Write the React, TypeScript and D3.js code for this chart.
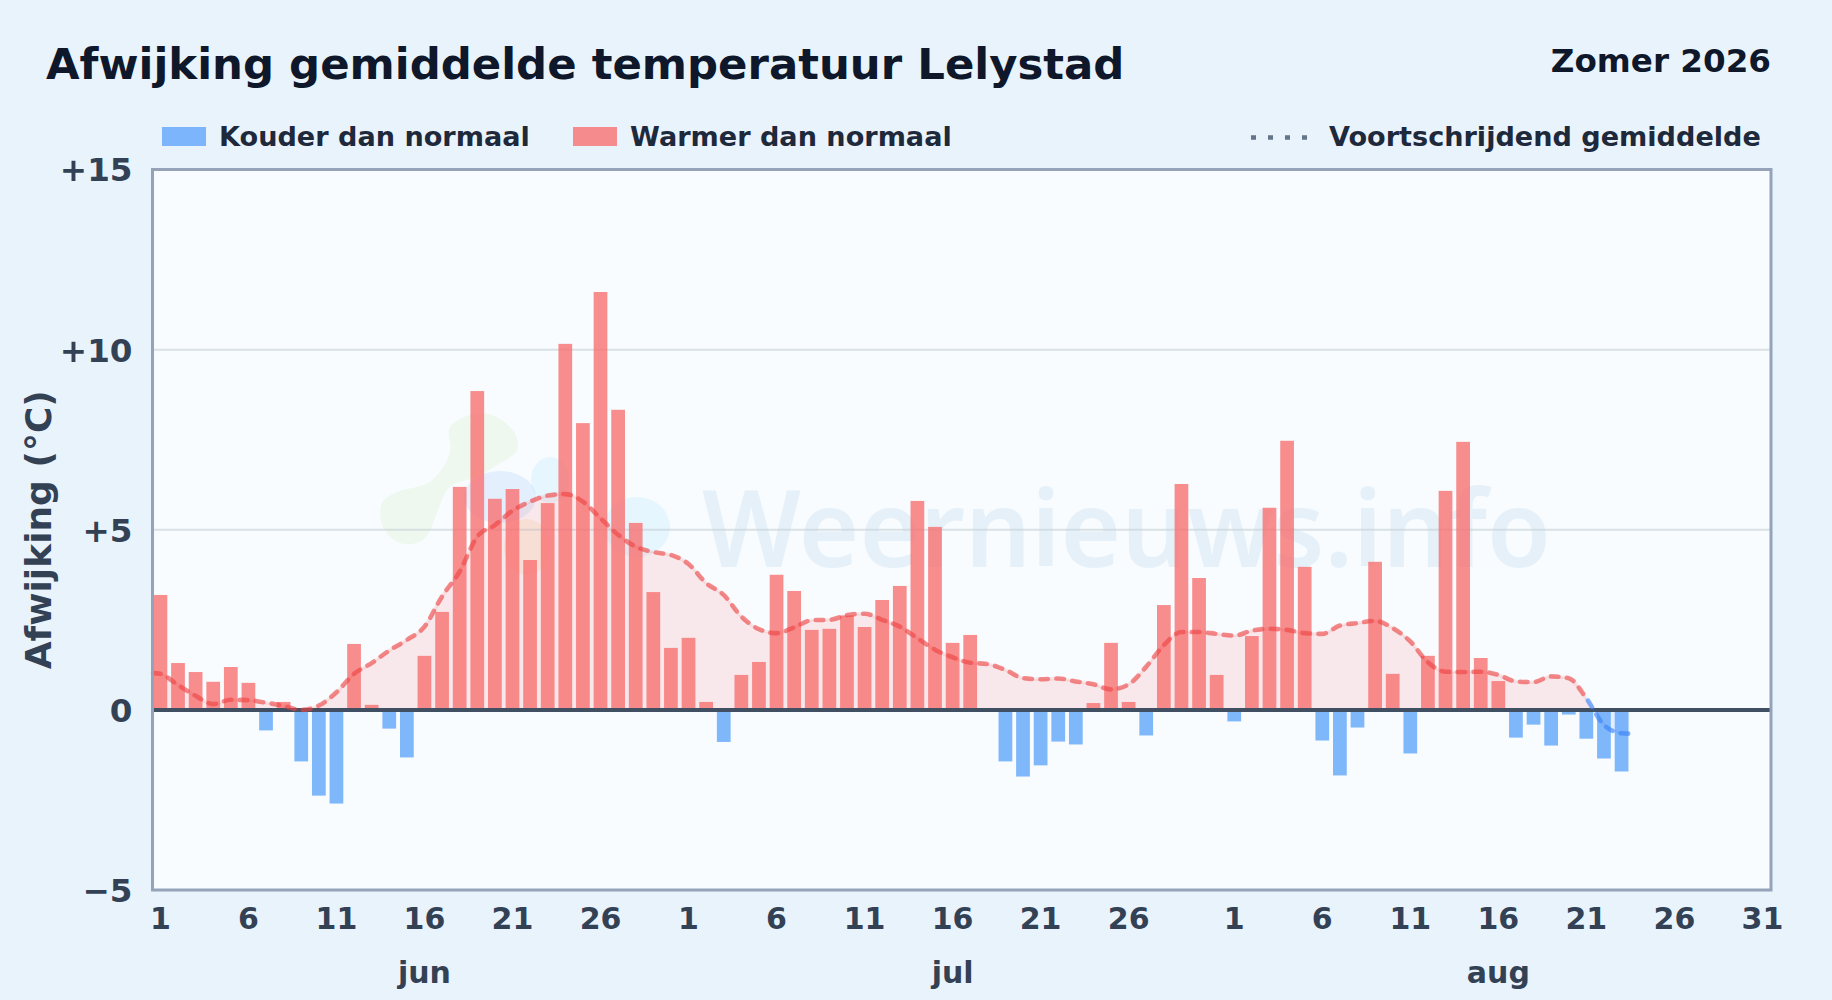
import React, { useRef, useEffect } from "react";
import * as d3 from "d3";

const months = ["jun", "jul", "aug"];
const monthLengths = [30, 31, 31];
// Month label sits under the 16th of each month
const monthLabelDay = 16;
const tickDays = [
  [1, 6, 11, 16, 21, 26],
  [1, 6, 11, 16, 21, 26],
  [1, 6, 11, 16, 21, 26, 31],
];
const yTicks = [-5, 0, 5, 10, 15];

const junValues = [
  3.19, 1.3, 1.05, 0.78, 1.19, 0.75, -0.57, 0.22, -1.43, -2.38, -2.6, 1.83, 0.14, -0.52, -1.32,
  1.5, 2.72, 6.19, 8.85, 5.86, 6.13, 4.16, 5.74, 10.16, 7.96, 11.6, 8.33, 5.19, 3.27, 1.72,
];
const julValues = [
  2.0, 0.22, -0.89, 0.97, 1.33, 3.75, 3.3, 2.22, 2.25, 2.62, 2.3, 3.05, 3.44, 5.8, 5.08, 1.86,
  2.08, 0, -1.43, -1.85, -1.54, -0.88, -0.96, 0.19, 1.86, 0.22, -0.71, 2.91, 6.27, 3.66, 0.97,
];
const augValues = [
  -0.32, 2.05, 5.61, 7.47, 3.97, -0.85, -1.82, -0.49, 4.11, 1.0, -1.21, 1.5, 6.08, 7.44, 1.44,
  0.8, -0.77, -0.41, -0.99, -0.13, -0.8, -1.35, -1.71,
];

const movingAverage = [
  1.0, 0.69, 0.39, 0.16, 0.28, 0.27, 0.2, 0.11, 0, 0.12, 0.49, 1.0, 1.3, 1.65, 1.94, 2.31, 3.15,
  3.84, 4.81, 5.13, 5.53, 5.78, 5.95, 5.99, 5.78, 5.32, 4.86, 4.53, 4.38, 4.3, 4.05, 3.52, 3.19,
  2.59, 2.24, 2.13, 2.29, 2.49, 2.5, 2.63, 2.67, 2.5, 2.31, 1.99, 1.67, 1.46, 1.31, 1.27, 1.11,
  0.88, 0.85, 0.87, 0.79, 0.71, 0.57, 0.71, 1.2, 1.8, 2.16, 2.16, 2.11, 2.06, 2.2, 2.25, 2.22,
  2.13, 2.11, 2.34, 2.41, 2.47, 2.27, 1.9, 1.32, 1.06, 1.05, 1.06, 0.97, 0.79, 0.77, 0.93, 0.88,
  0.32, -0.42, -0.65,
];
// The line runs on to the outer edges of the first and last bar
const maStart = { day: -0.42, value: 1.02 };
const maEnd = { day: 83.45, value: -0.66 };
// From this day on the line is coloured as "colder"
const maColdFromDay = 80.95;

const FONT = "'DejaVu Sans', sans-serif";
const WIDTH = 1832;
const HEIGHT = 1000;

const App: React.FC = () => {
  const svgRef = useRef<SVGSVGElement>(null);

  useEffect(() => {
    if (!svgRef.current) return;

    // Clear previous renderings
    d3.select(svgRef.current).selectAll("*").remove();

    const svg = d3.select(svgRef.current);
    const margin = { top: 169.5, right: 61, bottom: 110, left: 152.5 };
    const plotRight = WIDTH - margin.right;
    const plotBottom = HEIGHT - margin.bottom;

    const values = [...junValues, ...julValues, ...augValues];
    const dayCount = d3.sum(monthLengths);
    const monthStart = monthLengths.map((_, i) => d3.sum(monthLengths.slice(0, i)));

    const x = d3
      .scaleBand<number>()
      .domain(d3.range(dayCount))
      .range([151.6, 1771.2])
      .paddingInner(0.22)
      .paddingOuter(0.11);
    const dayX = d3
      .scaleLinear()
      .domain([0, dayCount - 1])
      .range([x(0)! + x.bandwidth() / 2, x(dayCount - 1)! + x.bandwidth() / 2]);
    const y = d3.scaleLinear().domain([-5, 15]).range([plotBottom, margin.top]);

    svg.append("rect").attr("width", WIDTH).attr("height", HEIGHT).attr("fill", "#e9f3fc");

    const defs = svg.append("defs");
    const addClip = (id: string, x0: number, y0: number, x1: number, y1: number) =>
      defs
        .append("clipPath")
        .attr("id", id)
        .append("rect")
        .attr("x", x0)
        .attr("y", y0)
        .attr("width", x1 - x0)
        .attr("height", y1 - y0);
    addClip("area-warm", margin.left, margin.top, plotRight, y(0));
    addClip("area-cold", margin.left, y(0), plotRight, plotBottom);
    addClip("line-warm", 0, 0, dayX(maColdFromDay), HEIGHT);
    addClip("line-cold", dayX(maColdFromDay), 0, WIDTH, HEIGHT);

    // Title
    svg
      .append("text")
      .attr("x", 46)
      .attr("y", 79)
      .attr("font-family", FONT)
      .attr("font-weight", "bold")
      .attr("font-size", 43.4)
      .attr("fill", "#0f172a")
      .text("Afwijking gemiddelde temperatuur Lelystad");
    svg
      .append("text")
      .attr("x", 1771)
      .attr("y", 72)
      .attr("text-anchor", "end")
      .attr("font-family", FONT)
      .attr("font-weight", "bold")
      .attr("font-size", 32.6)
      .attr("fill", "#0f172a")
      .text("Zomer 2026");

    // Legend
    const legendText = (lx: number, label: string) =>
      svg
        .append("text")
        .attr("x", lx)
        .attr("y", 146)
        .attr("font-family", FONT)
        .attr("font-weight", "bold")
        .attr("font-size", 27.1)
        .attr("fill", "#1e293b")
        .text(label);
    svg.append("rect").attr("x", 162).attr("y", 127).attr("width", 44).attr("height", 19).attr("fill", "#60a5fa").attr("opacity", 0.8);
    legendText(219, "Kouder dan normaal");
    svg.append("rect").attr("x", 573).attr("y", 127).attr("width", 44).attr("height", 19).attr("fill", "#f87171").attr("opacity", 0.8);
    legendText(630, "Warmer dan normaal");
    svg
      .append("line")
      .attr("x1", 1251)
      .attr("x2", 1307)
      .attr("y1", 137.5)
      .attr("y2", 137.5)
      .attr("stroke", "#64748b")
      .attr("stroke-width", 4.5)
      .attr("stroke-dasharray", "5 12");
    legendText(1329, "Voortschrijdend gemiddelde");

    // Plot background
    svg
      .append("rect")
      .attr("x", margin.left)
      .attr("y", margin.top)
      .attr("width", plotRight - margin.left)
      .attr("height", plotBottom - margin.top)
      .attr("fill", "#f8fcff");

    // Watermark: logo blobs and site name
    const blob = d3.line().curve(d3.curveCatmullRomClosed.alpha(0.5));
    const mark = svg.append("g");
    mark
      .append("path")
      .attr(
        "d",
        blob([
          [450, 427], [483, 413], [513, 430], [517, 450], [497, 465], [477, 477], [450, 487],
          [423, 540], [400, 543], [383, 527], [382, 503], [397, 492], [430, 482], [450, 453],
        ])
      )
      .attr("fill", "#84cc16")
      .attr("opacity", 0.07);
    const lobes: [number, number, number, number, string, number][] = [
      [500, 497, 36, 26, "#3b82f6", 0.1],
      [550, 480, 19, 23, "#38bdf8", 0.09],
      [637, 527, 33, 30, "#38bdf8", 0.09],
      [527, 547, 23, 28, "#f59e0b", 0.1],
    ];
    lobes.forEach(([cx, cy, rx, ry, fill, opacity]) => {
      mark.append("ellipse").attr("cx", cx).attr("cy", cy).attr("rx", rx).attr("ry", ry).attr("fill", fill).attr("opacity", opacity);
    });
    mark
      .append("text")
      .attr("x", 702)
      .attr("y", 567)
      .attr("font-family", "'Noto Sans', sans-serif")
      .attr("font-weight", 600)
      .attr("font-size", 106)
      .attr("textLength", 849)
      .attr("lengthAdjust", "spacingAndGlyphs")
      .attr("fill", "#1d74c0")
      .attr("opacity", 0.08)
      .text("Weernieuws.info");

    // Grid lines
    svg
      .selectAll("line.grid")
      .data(yTicks.filter((t) => t > 0 && t < 15))
      .enter()
      .append("line")
      .attr("class", "grid")
      .attr("x1", margin.left)
      .attr("x2", plotRight)
      .attr("y1", (d) => y(d))
      .attr("y2", (d) => y(d))
      .attr("stroke", "#c4ced4")
      .attr("stroke-opacity", 0.6)
      .attr("stroke-width", 2);

    // Moving average area, split at zero
    const maPoints: [number, number][] = [
      [maStart.day, maStart.value],
      ...movingAverage.map((v, i): [number, number] => [i, v]),
      [maEnd.day, maEnd.value],
    ];
    const area = d3
      .area<[number, number]>()
      .x((d) => dayX(d[0]))
      .y0(y(0))
      .y1((d) => y(d[1]))
      .curve(d3.curveMonotoneX);
    svg.append("path").attr("d", area(maPoints)).attr("fill", "#f87171").attr("opacity", 0.14).attr("clip-path", "url(#area-warm)");
    svg.append("path").attr("d", area(maPoints)).attr("fill", "#60a5fa").attr("opacity", 0.14).attr("clip-path", "url(#area-cold)");

    // Daily bars
    svg
      .selectAll("rect.bar")
      .data(values)
      .enter()
      .append("rect")
      .attr("class", "bar")
      .attr("x", (_, i) => x(i)!)
      .attr("width", x.bandwidth())
      .attr("y", (d) => y(Math.max(d, 0)))
      .attr("height", (d) => Math.abs(y(d) - y(0)))
      .attr("fill", (d) => (d < 0 ? "#60a5fa" : "#f87171"))
      .attr("opacity", 0.8);

    // Zero line
    svg
      .append("line")
      .attr("x1", margin.left)
      .attr("x2", plotRight)
      .attr("y1", y(0))
      .attr("y2", y(0))
      .attr("stroke", "#414f63")
      .attr("stroke-width", 4);

    // Moving average line
    const line = d3
      .line<[number, number]>()
      .x((d) => dayX(d[0]))
      .y((d) => y(d[1]))
      .curve(d3.curveMonotoneX);
    [
      { clip: "line-warm", color: "#ef4444" },
      { clip: "line-cold", color: "#3b82f6" },
    ].forEach(({ clip, color }) => {
      const g = svg.append("g").attr("clip-path", `url(#${clip})`);
      g.append("path").attr("d", line(maPoints)).attr("fill", "none").attr("stroke", color).attr("stroke-width", 3.5).attr("opacity", 0.1);
      g.append("path")
        .attr("d", line(maPoints))
        .attr("fill", "none")
        .attr("stroke", color)
        .attr("stroke-width", 4.6)
        .attr("stroke-linecap", "round")
        .attr("stroke-dasharray", "7.5 8.5")
        .attr("opacity", 0.6);
    });

    // Plot border
    svg
      .append("rect")
      .attr("x", margin.left)
      .attr("y", margin.top)
      .attr("width", plotRight - margin.left)
      .attr("height", plotBottom - margin.top)
      .attr("fill", "none")
      .attr("stroke", "#94a3b8")
      .attr("stroke-width", 3);

    // Axes
    const styleAxis = (g: d3.Selection<SVGGElement, unknown, null, undefined>) => {
      g.select(".domain").remove();
      g.selectAll("text")
        .attr("font-family", FONT)
        .attr("font-weight", "bold")
        .attr("fill", "#334155");
    };
    svg
      .append("g")
      .attr("transform", `translate(${margin.left},1)`)
      .call(
        d3
          .axisLeft(y)
          .tickValues(yTicks)
          .tickSize(0)
          .tickPadding(20)
          .tickFormat((d) => (+d === 0 ? "0" : d3.format("+d")(+d).replace("-", "\u2212")))
      )
      .call(styleAxis)
      .selectAll("text")
      .attr("font-size", 32.6);

    const dayLabels = new Map<number, number>();
    tickDays.forEach((days, m) => days.forEach((d) => dayLabels.set(monthStart[m] + d - 1, d)));
    svg
      .append("g")
      .attr("transform", `translate(0,${plotBottom})`)
      .call(
        d3
          .axisBottom(x)
          .tickValues(Array.from(dayLabels.keys()))
          .tickSize(0)
          .tickPadding(18)
          .tickFormat((d) => String(dayLabels.get(d)))
      )
      .call(styleAxis)
      .selectAll("text")
      .attr("font-size", 30);

    svg
      .selectAll("text.month")
      .data(months)
      .enter()
      .append("text")
      .attr("class", "month")
      .attr("x", (_, i) => dayX(monthStart[i] + monthLabelDay - 1))
      .attr("y", 983)
      .attr("text-anchor", "middle")
      .attr("font-family", FONT)
      .attr("font-weight", "bold")
      .attr("font-size", 30)
      .attr("fill", "#334155")
      .text((d) => d);

    // Y axis title
    svg
      .append("text")
      .attr("transform", `translate(51,${(margin.top + plotBottom) / 2}) rotate(-90)`)
      .attr("text-anchor", "middle")
      .attr("font-family", FONT)
      .attr("font-weight", "bold")
      .attr("font-size", 36)
      .attr("fill", "#334155")
      .text("Afwijking (\u00b0C)");
  }, []);

  return (
    <svg
      ref={svgRef}
      width={WIDTH}
      height={HEIGHT}
      style={{ position: "absolute", left: 0, top: 0, display: "block" }}
    />
  );
};

export default App;
